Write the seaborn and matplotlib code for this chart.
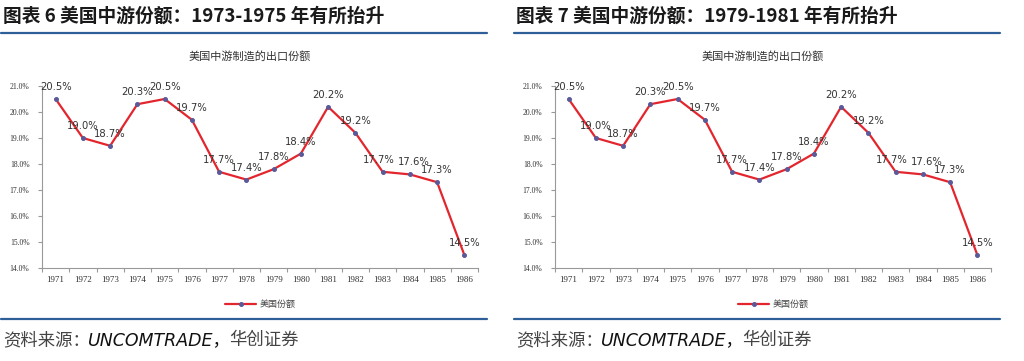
import numpy as np
import pandas as pd
import seaborn as sns
import matplotlib.pyplot as plt
from matplotlib.lines import Line2D
from matplotlib.ticker import FixedLocator

### 美国中游制造的出口份额 (两张图数据相同)
years = [1971, 1972, 1973, 1974, 1975, 1976, 1977, 1978,
         1979, 1980, 1981, 1982, 1983, 1984, 1985, 1986]
share = [20.5, 19.0, 18.7, 20.3, 20.5, 19.7, 17.7, 17.4,
         17.8, 18.4, 20.2, 19.2, 17.7, 17.6, 17.3, 14.5]
titles = ['图表 6 美国中游份额：1973-1975 年有所抬升',
          '图表 7 美国中游份额：1979-1981 年有所抬升']
chart_title = '美国中游制造的出口份额'
series_name = '美国份额'
source_cn = '资料来源：'
source_en = 'UNCOMTRADE，'
source_cn2 = '华创证券'
yticks = [14, 15, 16, 17, 18, 19, 20, 21]

sns.set_style('white')
plt.rcParams['font.family'] = ['Noto Sans CJK SC', 'DejaVu Sans']

df = pd.DataFrame({'pos': np.arange(len(years)), 'year': years, 'share': share})

fig = plt.figure(figsize=(10.24, 3.61), dpi=100)
W, H = 1024.0, 361.0
blue = '#2F5F98'

for i, off in enumerate([0, 513]):
    # header and footer
    fig.text((3 + off) / W, 1 - 16 / H, titles[i], fontsize=13.5, fontweight='bold',
             color='#1a1a1a', va='center', ha='left')
    fig.add_artist(Line2D([(1 + off) / W, (487 + off) / W], [1 - 33 / H, 1 - 33 / H],
                          color=blue, lw=1.6))
    fig.add_artist(Line2D([(1 + off) / W, (487 + off) / W], [1 - 319 / H, 1 - 319 / H],
                          color=blue, lw=1.6))
    fig.text((3 + off) / W, 1 - 340 / H, source_cn, fontsize=12.5,
             color='#444444', va='center', ha='left')
    fig.text((88 + off) / W, 1 - 340 / H, source_en, fontsize=12.5, style='italic',
             family=['DejaVu Sans', 'Noto Sans CJK SC'],
             color='#111111', va='center', ha='left')
    fig.text((229 + off) / W, 1 - 340 / H, source_cn2, fontsize=12.5,
             color='#444444', va='center', ha='left')
    fig.text((250 + off) / W, 1 - 56 / H, chart_title, fontsize=8,
             color='#333333', va='center', ha='center')

    ax = fig.add_axes([(42 + off) / W, 1 - 268 / H, 436 / W, 182 / H])
    sns.lineplot(data=df, x='pos', y='share', ax=ax, color='#E3262E', lw=1.6,
                 marker='o', markersize=2.8, markerfacecolor='#5A5A9A',
                 markeredgecolor='#5A5A9A', label=series_name)
    for x, y in zip(df['pos'], df['share']):
        # crowded neighbours get nudged apart a little
        dx = {12: -3, 13: 3}.get(x, 0)
        ax.annotate(f'{y:.1f}%', (x, y), xytext=(dx, 5), textcoords='offset points',
                    ha='center', va='bottom', fontsize=7.2, color='#333333',
                    family=['DejaVu Sans'])

    ax.set_xlim(-0.5, len(years) - 0.5)
    ax.set_ylim(14, 21)
    ax.set_xticks(df['pos'])
    ax.set_xticklabels([str(y) for y in years], family=['Liberation Serif'], fontsize=6.5,
                       color='#333333')
    ax.xaxis.set_minor_locator(FixedLocator(np.arange(-0.5, len(years), 1)))
    ax.tick_params(axis='x', which='major', length=0, pad=6)
    ax.tick_params(axis='x', which='minor', length=3, color='#999999', width=0.8,
                   direction='out', bottom=True)
    ax.set_yticks(yticks)
    ax.set_yticklabels([f'{t:.1f}%' for t in yticks], family=['Liberation Serif'],
                       fontsize=5.5, color='#333333')
    ax.tick_params(axis='y', length=3, color='#999999', width=0.8, direction='out',
                   left=True, pad=6)
    ax.set_xlabel('')
    ax.set_ylabel('')
    for s in ['top', 'right']:
        ax.spines[s].set_visible(False)
    for s in ['left', 'bottom']:
        ax.spines[s].set_color('#999999')
        ax.spines[s].set_linewidth(0.8)

    leg = ax.legend(loc='center', bbox_to_anchor=(0.5, -0.2), frameon=False,
                    fontsize=6.5, handlelength=3.5, handletextpad=0.3)
    for t in leg.get_texts():
        t.set_color('#444444')

fig.savefig('out.png', dpi=100)
